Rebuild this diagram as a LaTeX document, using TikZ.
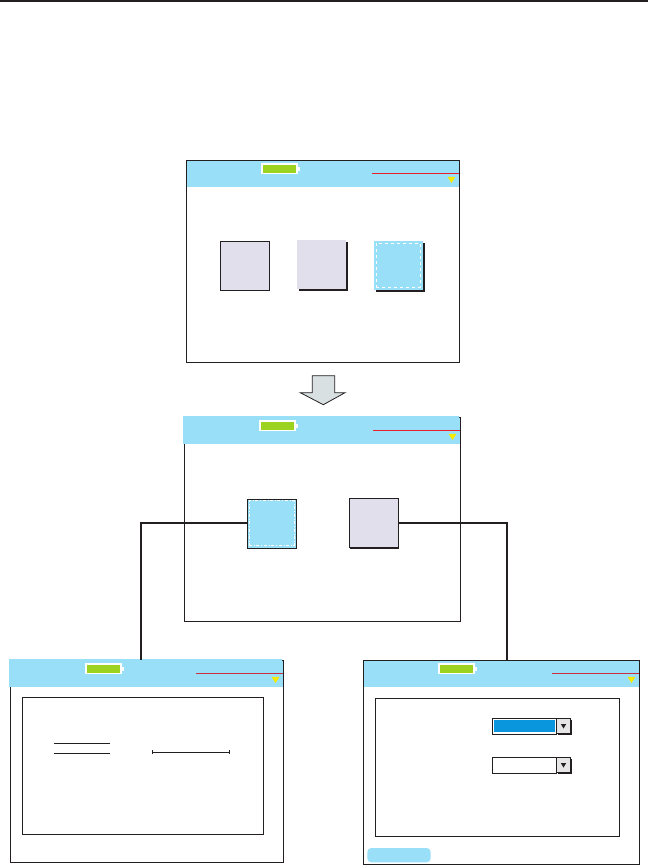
\documentclass[tikz,border=0pt]{standalone}
\usetikzlibrary{arrows.meta,positioning,shadows}
\definecolor{headblue}{RGB}{153,223,248}
\definecolor{iconlav}{RGB}{224,223,235}
\definecolor{battgreen}{RGB}{155,211,32}
\definecolor{alarmred}{RGB}{232,32,42}
\definecolor{dimred}{RGB}{200,48,64}
\definecolor{warnyellow}{RGB}{245,235,0}
\definecolor{selblue}{RGB}{10,150,220}
\definecolor{btngrey}{RGB}{230,230,230}
\definecolor{arrowgrey}{RGB}{217,224,226}
\definecolor{ink}{RGB}{35,31,32}

\begin{document}
\begin{tikzpicture}[x=1pt, y=-1pt,
    frame/.style={draw=ink, line width=1},
    icon/.style={minimum size=49pt, inner sep=0pt, line width=0.8},
    shadowed/.style={general shadow={fill=ink, shadow xshift=2pt, shadow yshift=-2pt}},
    link/.style={draw=ink, line width=1.7},
    rule/.style={draw=ink, line width=0.9}]
  \useasboundingbox (0,0) rectangle (648,865);

  % top rule
  \draw[ink, line width=2] (0,1) -- (648,1);

  % screen frames and headers
  \foreach \xa/\ya/\xb/\yb/\rc/\op in {186/160/459/362/alarmred/0,184/417/460/621/alarmred/1,10/660/283/862/dimred/1,363/660/639/864/dimred/0} {
    \fill[headblue] (\xa,\ya) rectangle (\xb,{\ya+27});
    \draw[frame] (\xa,\ya) rectangle (\xb,\yb);
    \fill[headblue, opacity=\op] ({\xa-0.6},{\ya-0.6}) rectangle ({\xb-0.6},{\ya+27});
    \draw[white, line width=1.2, fill=battgreen] ({\xa+76},{\ya+4}) rectangle ++(35,9.5);
    \fill[white] ({\xa+111.6},{\ya+6.5}) rectangle ++(2.6,4.5);
    \draw[\rc, line width=1.2] ({\xb-87},{\ya+13.5}) -- (\xb,{\ya+13.5});
    \fill[warnyellow] ({\xb-11.5},{\ya+16.8}) -- ({\xb-3.5},{\ya+16.8}) -- ({\xb-7.5},{\ya+23}) -- cycle;
  }

  % screen 1 icons
  \node[icon, draw=ink, fill=iconlav] (iconA) at (245,265.8) {};
  \node[icon, fill=iconlav, shadowed] (iconB) at (321.5,264.5) {};
  \node[icon, fill=headblue, shadowed] (iconC) at (398,265) {};
  \node[draw=white, dashed, line width=0.7, minimum size=44pt, inner sep=0pt] (iconCsel) at (iconC) {};

  % step arrow
  \draw[ink, fill=arrowgrey, line width=0.8] (312.3,375.7) -- (334.7,375.7) -- (334.7,392.7)
    -- (345,392.7) -- (323.3,404.7) -- (300.3,392.7) -- (312.3,392.7) -- cycle;

  % screen 2 icons
  \node[icon, draw=ink, line width=0.5, fill=headblue] (iconD) at (271.5,523.3) {};
  \node[draw=white, dash dot, line width=0.7, minimum size=45pt, inner sep=0pt] (iconDsel) at (iconD) {};
  \node[icon, draw=ink, fill=iconlav, general shadow={fill=ink, shadow xshift=0.8pt, shadow yshift=-0.8pt}] (iconE) at (373.5,523.3) {};

  % links to sub screens
  \coordinate (tapL) at (141,660);
  \coordinate (tapR) at (507,660);
  \draw[link] (iconD.west) -| (tapL);
  \draw[link] (iconE.east) -| (tapR);

  % left sub screen
  \draw[frame] (22.3,697.3) rectangle (263.7,834.3);
  \draw[rule] (54,743.3) -- (110,743.3);
  \draw[rule] (54,753.3) -- (110,753.3);
  \draw[rule, {Bar[width=4pt]}-{Bar[width=4pt]}] (152.3,752.3) -- (229.7,752.3);

  % right sub screen
  \draw[frame] (375.3,698.3) rectangle (619.7,836.3);
  \foreach \cy/\cf in {726.5/selblue,765.5/white} {
    \draw[frame, fill=white] (492.3,{\cy-8.2}) rectangle (556.3,{\cy+8.2});
    \fill[\cf] (494,{\cy-6.5}) rectangle (555,{\cy+5.5});
    \fill[ink] (558,{\cy-6.5}) rectangle (572.3,{\cy+8.7});
    \draw[frame, fill=btngrey] (556.3,{\cy-8.2}) rectangle (570.7,{\cy+7.2});
    \fill[ink] (560.8,{\cy-2.5}) -- (566.2,{\cy-2.5}) -- (563.5,{\cy+2}) -- cycle;
  }
  \fill[headblue, rounded corners=4pt] (367.3,848) rectangle (430.7,862.3);
\end{tikzpicture}
\end{document}
